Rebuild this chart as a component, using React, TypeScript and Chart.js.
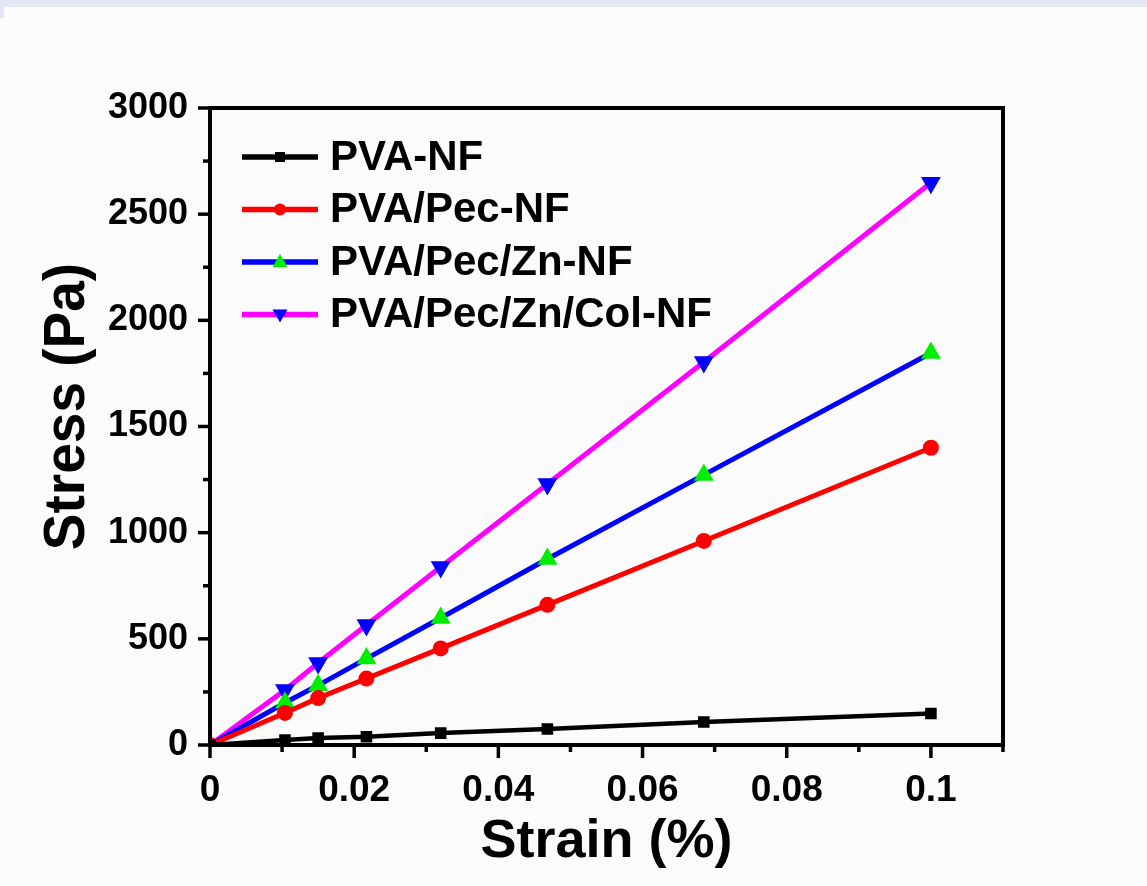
import React, { useEffect, useRef } from "react";
import { Chart, registerables } from "chart.js";

Chart.register(...registerables);

const strain = [0, 0.0104, 0.015, 0.0217, 0.032, 0.0468, 0.0685, 0.1];
const pvaNF = [0, 23, 33, 39, 56, 75, 108, 148];
const pvaPecNF = [0, 151, 221, 313, 455, 660, 961, 1400];
const pvaPecZnNF = [0, 199, 281, 407, 598, 876, 1272, 1846];
const pvaPecZnColNF = [0, 259, 386, 565, 838, 1229, 1804, 2648];
const seriesNames = ["PVA-NF", "PVA/Pec-NF", "PVA/Pec/Zn-NF", "PVA/Pec/Zn/Col-NF"];
const xTickValues = [0, 0.02, 0.04, 0.06, 0.08, 0.1];
const yTickValues = [0, 500, 1000, 1500, 2000, 2500, 3000];
const xTitle = "Strain (%)";
const yTitle = "Stress (Pa)";

const FONT = "'Liberation Sans', Arial, sans-serif";

function toPts(ys: number[]) {
  return ys.map((y, i) => ({ x: strain[i], y }));
}

function drawMarker(ctx: CanvasRenderingContext2D, kind: string, x: number, y: number, fill: string) {
  ctx.save();
  ctx.fillStyle = fill;
  ctx.beginPath();
  if (kind === "rect") {
    ctx.rect(x - 5, y - 5, 10, 10);
  } else if (kind === "circle") {
    ctx.arc(x, y, 6, 0, Math.PI * 2);
  } else if (kind === "up") {
    ctx.moveTo(x, y - 8);
    ctx.lineTo(x + 7.5, y + 5);
    ctx.lineTo(x - 7.5, y + 5);
    ctx.closePath();
  } else {
    ctx.moveTo(x, y + 8);
    ctx.lineTo(x + 7.5, y - 5);
    ctx.lineTo(x - 7.5, y - 5);
    ctx.closePath();
  }
  ctx.fill();
  ctx.restore();
}

const framePlugin = {
  id: "frameTicks",
  afterDraw(chart: any) {
    const { ctx, chartArea, scales } = chart;
    const xs = scales.x;
    const ys = scales.y;
    ctx.save();
    ctx.strokeStyle = "#000";
    ctx.lineWidth = 4;
    ctx.lineCap = "butt";
    ctx.strokeRect(chartArea.left, chartArea.top, chartArea.right - chartArea.left, chartArea.bottom - chartArea.top);
    ctx.lineWidth = 3.5;
    for (let i = 0; i <= 12; i++) {
      const v = i * 250;
      const py = ys.getPixelForValue(v);
      const len = i % 2 === 0 ? 12 : 7;
      ctx.beginPath();
      ctx.moveTo(chartArea.left, py);
      ctx.lineTo(chartArea.left - len, py);
      ctx.stroke();
    }
    for (let i = 0; i <= 11; i++) {
      const v = i * 0.01;
      const px = xs.getPixelForValue(v);
      const len = i % 2 === 0 ? 13 : 7;
      ctx.beginPath();
      ctx.moveTo(px, chartArea.bottom);
      ctx.lineTo(px, chartArea.bottom + len);
      ctx.stroke();
    }
    // y axis title
    ctx.save();
    ctx.translate(84, (chartArea.top + chartArea.bottom) / 2 - 20);
    ctx.rotate(-Math.PI / 2);
    ctx.scale(1, 1.06);
    ctx.fillStyle = "#000";
    ctx.font = `bold 55px ${FONT}`;
    ctx.textAlign = "center";
    ctx.textBaseline = "alphabetic";
    ctx.fillText(yTitle, 0, 0);
    ctx.restore();
    // legend
    const kinds = ["rect", "circle", "up", "down"];
    chart.data.datasets.forEach((ds: any, i: number) => {
      const y = 157 + i * 52.5;
      ctx.strokeStyle = ds.borderColor;
      ctx.lineWidth = 5.5;
      ctx.beginPath();
      ctx.moveTo(242, y);
      ctx.lineTo(318, y);
      ctx.stroke();
      drawMarker(ctx, kinds[i], 280, y, ds.pointBackgroundColor);
      ctx.fillStyle = "#000";
      ctx.font = `bold 42px ${FONT}`;
      ctx.textBaseline = "middle";
      ctx.textAlign = "left";
      ctx.fillText(ds.label, 330, y + 1);
    });
    ctx.restore();
  },
};

export default function App() {
  const ref = useRef<HTMLCanvasElement | null>(null);
  useEffect(() => {
    if (!ref.current) return;
    const chart = new Chart(ref.current, {
      type: "line",
      data: {
        datasets: [
          {
            label: seriesNames[0],
            data: toPts(pvaNF),
            borderColor: "#000000",
            backgroundColor: "#000000",
            pointBackgroundColor: "#000000",
            pointBorderColor: "#000000",
            borderWidth: 4.5,
            pointStyle: "rect",
            pointRadius: 5,
          },
          {
            label: seriesNames[1],
            data: toPts(pvaPecNF),
            borderColor: "#ff0000",
            backgroundColor: "#ff0000",
            pointBackgroundColor: "#ff0000",
            pointBorderColor: "#ff0000",
            borderWidth: 5,
            pointStyle: "circle",
            pointRadius: 5.5,
          },
          {
            label: seriesNames[2],
            data: toPts(pvaPecZnNF),
            borderColor: "#0000ff",
            backgroundColor: "#00ee00",
            pointBackgroundColor: "#00ee00",
            pointBorderColor: "#00ee00",
            borderWidth: 5,
            pointStyle: "triangle",
            pointRadius: 6.5,
          },
          {
            label: seriesNames[3],
            data: toPts(pvaPecZnColNF),
            borderColor: "#ff00ff",
            backgroundColor: "#0000ff",
            pointBackgroundColor: "#0000ff",
            pointBorderColor: "#0000ff",
            borderWidth: 5,
            pointStyle: "triangle",
            pointRotation: 180,
            pointRadius: 6.5,
          },
        ],
      },
      options: {
        responsive: false,
        animation: false,
        layout: { padding: { left: 0, top: 108, right: 144, bottom: 0 } },
        plugins: { legend: { display: false }, tooltip: { enabled: false } },
        elements: { line: { tension: 0 }, point: { borderWidth: 1 } },
        scales: {
          x: {
            type: "linear",
            min: 0,
            max: 0.11,
            grid: { display: false, drawTicks: false },
            border: { display: false },
            afterBuildTicks: (s: any) => {
              s.ticks = xTickValues.map((v) => ({ value: v }));
            },
            afterFit: (s: any) => {
              s.height = 141;
            },
            ticks: {
              color: "#000",
              font: { family: FONT, size: 37, weight: "bold" },
              padding: 24,
              maxRotation: 0,
              autoSkip: false,
              callback: (v: any) => String(Number(Number(v).toFixed(2))),
            },
            title: {
              display: true,
              text: xTitle,
              color: "#000",
              font: { family: FONT, size: 54, weight: "bold" },
              padding: { top: 0, bottom: 11 },
            },
          },
          y: {
            type: "linear",
            min: 0,
            max: 3000,
            grid: { display: false, drawTicks: false },
            border: { display: false },
            afterBuildTicks: (s: any) => {
              s.ticks = yTickValues.map((v) => ({ value: v }));
            },
            afterFit: (s: any) => {
              s.width = 210;
            },
            ticks: {
              color: "#000",
              font: { family: FONT, size: 36, weight: "bold" },
              padding: 22,
              autoSkip: false,
              callback: (v: any) => String(v),
            },
            title: { display: false },
          },
        },
      },
      plugins: [framePlugin],
    } as any);
    return () => chart.destroy();
  }, []);
  return (
    <div style={{ position: "absolute", left: 0, top: 0, width: 1147, height: 886, background: "#fbfbfb", overflow: "hidden" }}>
      <div style={{ position: "absolute", left: 0, top: 0, width: 1147, height: 7, background: "#e4e7f3" }} />
      <div style={{ position: "absolute", left: 0, top: 7, width: 4, height: 11, background: "#e4e7f3" }} />
      <canvas ref={ref} width={1147} height={886} style={{ position: "absolute", left: 0, top: 0 }} />
    </div>
  );
}
